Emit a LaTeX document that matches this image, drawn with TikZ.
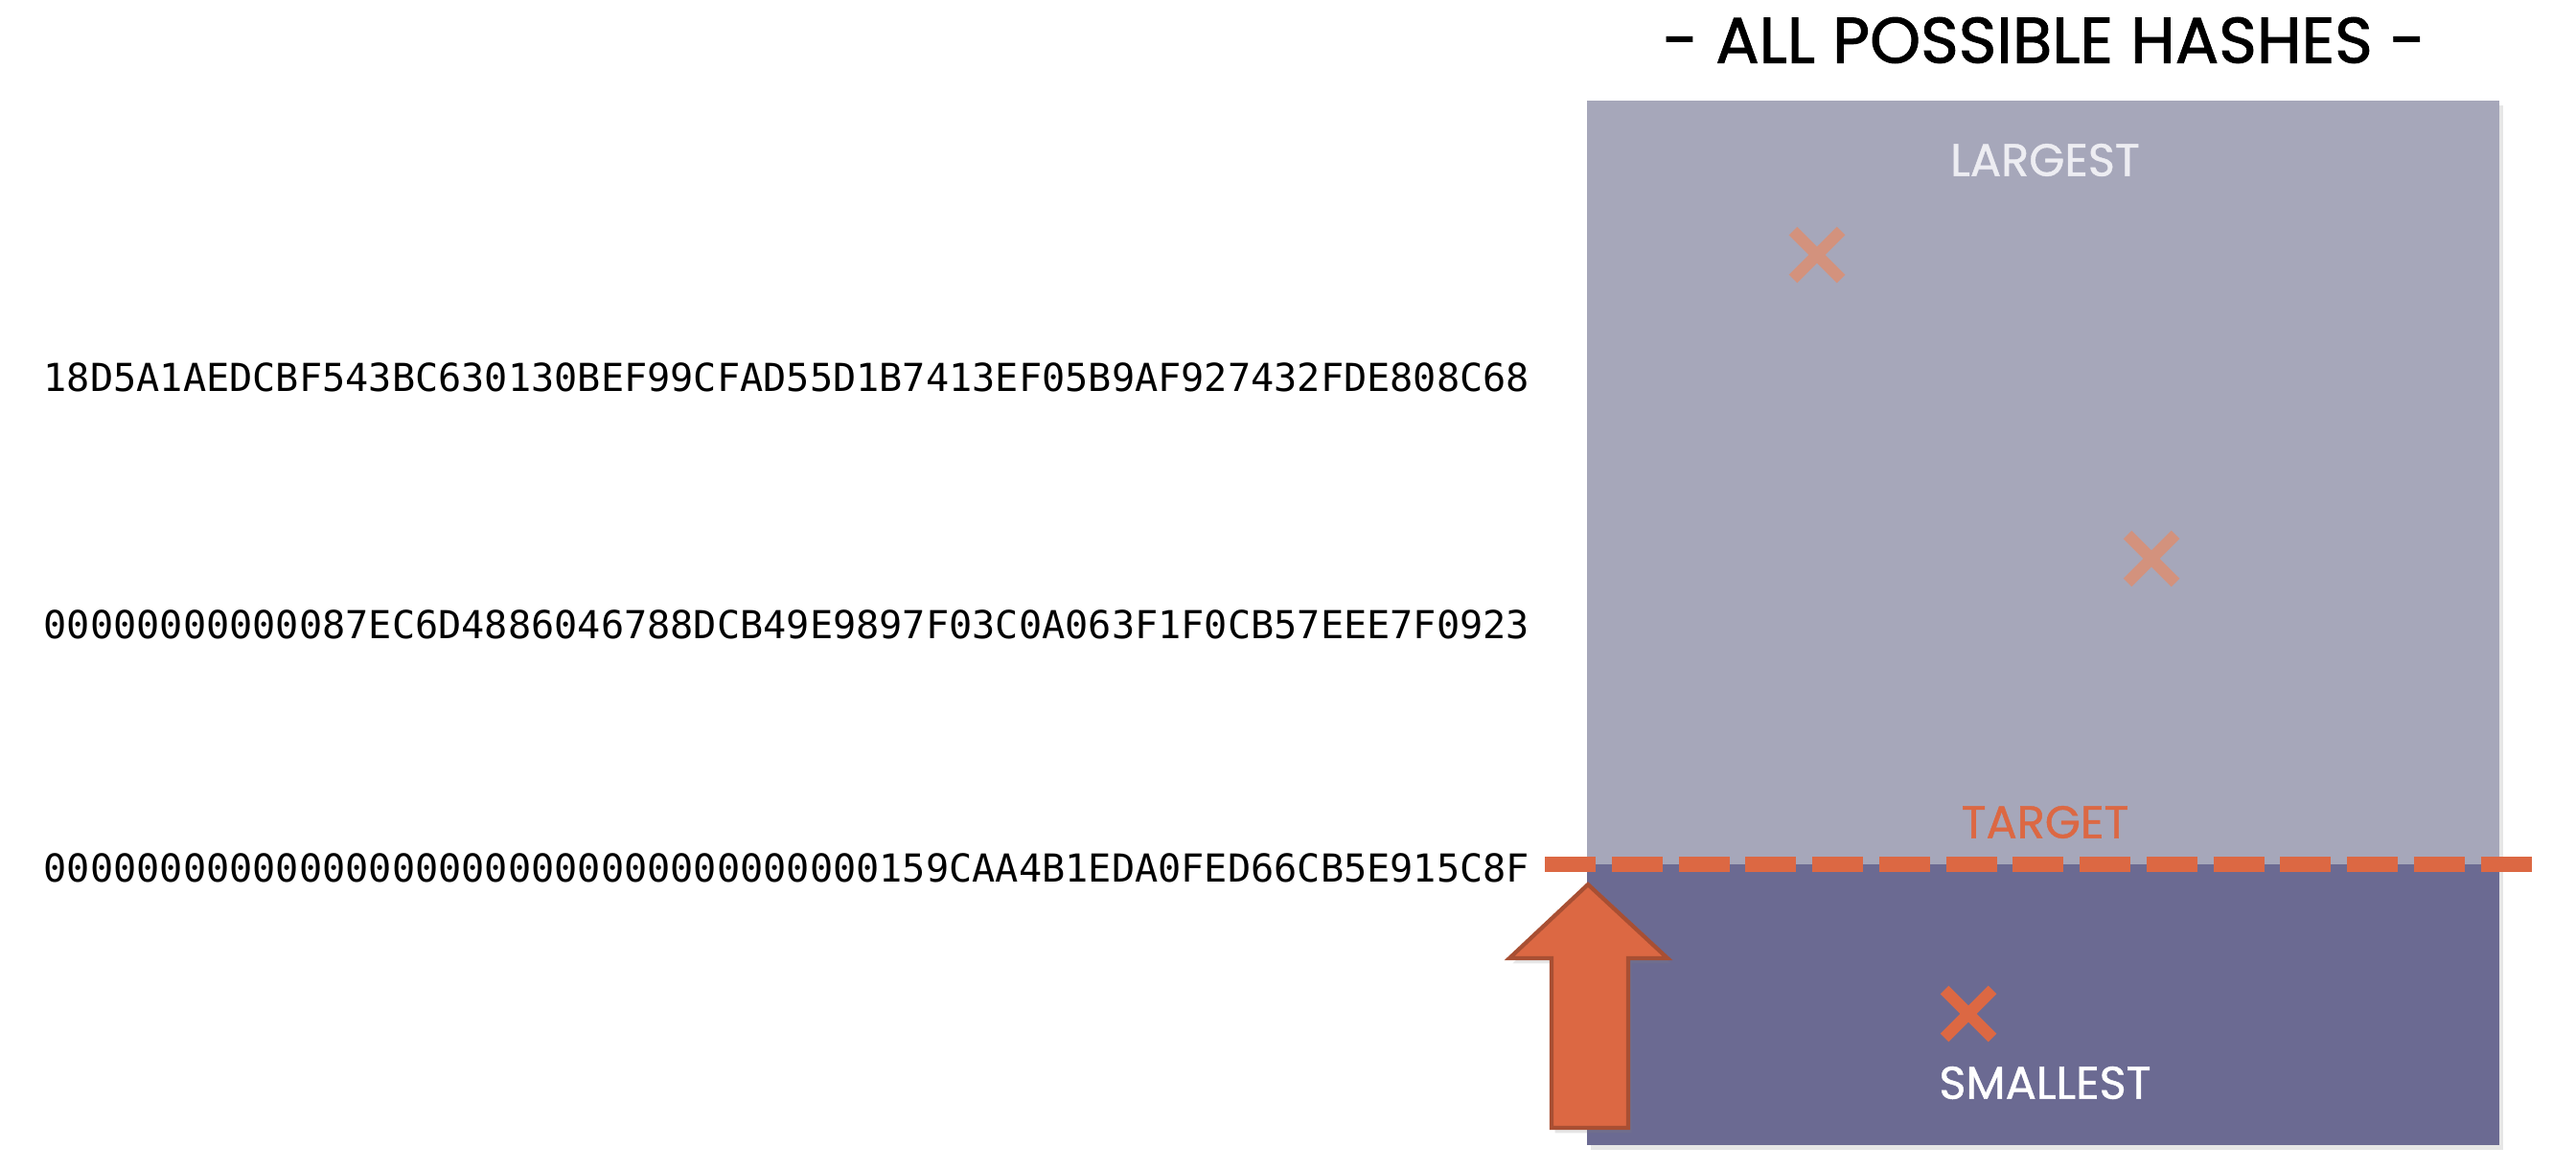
\documentclass[tikz,border=0pt]{standalone}
\usepackage{fontspec}
\setmainfont{Poppins}
\setmonofont{DejaVu Sans Mono}
\newfontfamily\titrefont[FakeBold=1.3]{Poppins}
\newfontfamily\zonefont[FakeBold=0.9]{Poppins}
\usepackage{tikz}
\usetikzlibrary{arrows}
\usetikzlibrary{shadows}
\definecolor{grisclair}{RGB}{166,167,186}
\definecolor{grisfonce}{RGB}{107,106,146}
\definecolor{corail}{RGB}{220,104,67}
\definecolor{corailpale}{RGB}{211,146,125}
\definecolor{corailfonce}{RGB}{168,79,51}
\definecolor{blanccasse}{RGB}{237,237,242}

\begin{document}
\begin{tikzpicture}[scale=.1]
	% STYLES
	\tikzstyle{zone} = [draw=none]
	\tikzstyle{nomzone} = [inner sep=0pt, font=\zonefont\fontsize{13.6}{16}\selectfont]
	\tikzstyle{hashtxt} = [anchor=west, inner sep=0pt, font=\ttfamily\fontsize{11.45}{13}\selectfont]
	\tikzstyle{croix} = [line width=3.5pt]
	\tikzstyle{ligne} = [line width=4.6pt, draw=corail, dash pattern=on 15.1pt off 4.75pt]
	\tikzstyle{fleche} = [fill=corail, draw=corailfonce, line width=1.2pt, line join=miter]
	\tikzstyle{ombre} = [drop shadow={opacity=.2, shadow xshift=1pt, shadow yshift=-1.5pt}]

	\useasboundingbox (0, 0) rectangle (268.8, 122);

	% TITRE
	\node[inner sep=0pt, font=\titrefont\fontsize{19.2}{23}\selectfont] (titre) at (213.3, 117.8) {- ALL POSSIBLE HASHES -};

	% ZONES
	% au-dessus de la cible
	\draw[zone, ombre, fill=grisclair] (165.6, 31.8) rectangle (260.8, 111.5);
	\node[nomzone, text=blanccasse] (largest) at (213.4, 105.3) {LARGEST};
	% en dessous
	\draw[zone, ombre, fill=grisfonce] (165.6, 2.5) rectangle (260.8, 31.8);
	\node[nomzone, text=white] (smallest) at (213.4, 9.0) {SMALLEST};

	% CROIX
	\draw[croix, draw=corailpale] (189.6, 95.4) ++ (-2.5, -2.5) -- ++ (5, 5) ++ (-5, 0) -- ++ (5, -5);
	\draw[croix, draw=corailpale] (224.5, 63.7) ++ (-2.5, -2.5) -- ++ (5, 5) ++ (-5, 0) -- ++ (5, -5);
	\draw[croix, draw=corail] (205.4, 16.2) ++ (-2.5, -2.5) -- ++ (5, 5) ++ (-5, 0) -- ++ (5, -5);

	% FLECHE
	\draw[fleche, ombre]
		(161.9, 4.3) -- (169.9, 4.3) -- (169.9, 22.0) -- (174.0, 22.0)
		-- (165.7, 29.7) -- (157.5, 22.0) -- (161.9, 22.0) -- cycle;

	% CIBLE
	\draw[ligne] (161.2, 31.8) -- (264.2, 31.8);
	\node[nomzone, text=corail] (target) at (213.4, 36.2) {TARGET};

	% HASHES
	\node[hashtxt] (hashA) at (4.5, 82.6) {18D5A1AEDCBF543BC630130BEF99CFAD55D1B7413EF05B9AF927432FDE808C68};
	\node[hashtxt] (hashB) at (4.5, 56.8) {00000000000087EC6D4886046788DCB49E9897F03C0A063F1F0CB57EEE7F0923};
	\node[hashtxt] (hashC) at (4.5, 31.4) {000000000000000000000000000000000000159CAA4B1EDA0FED66CB5E915C8F};

\end{tikzpicture}
\end{document}
